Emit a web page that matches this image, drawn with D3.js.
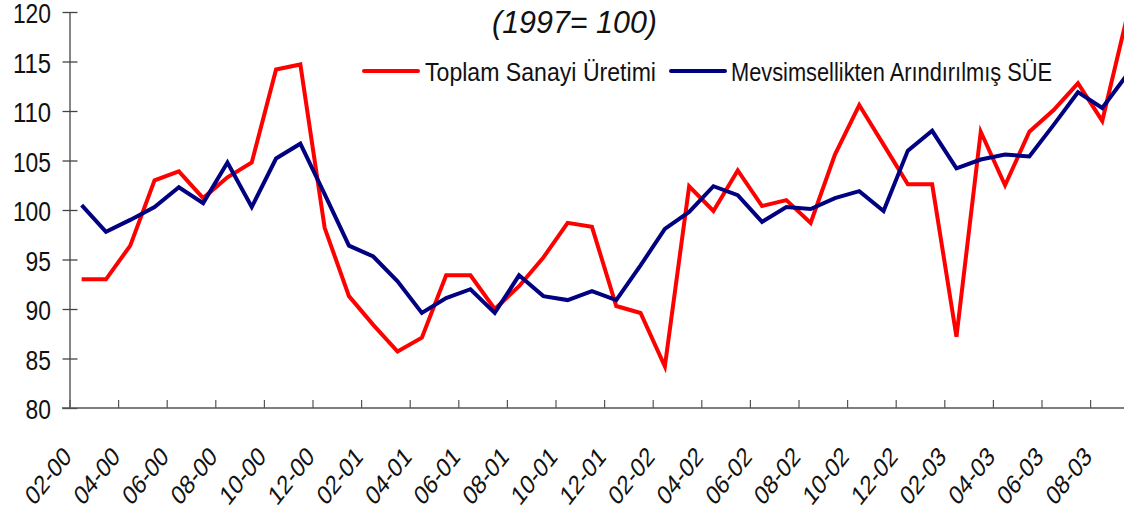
<!DOCTYPE html>
<html>
<head>
<meta charset="utf-8">
<script src="https://cdn.jsdelivr.net/npm/d3@7"></script>
<style>
  body { margin: 0; background: #fff; }
  svg { display: block; font-family: "Liberation Sans", Arial, sans-serif; }
</style>
</head>
<body>
<svg width="1124" height="513"></svg>
<script>
// months, Feb 2000 .. Sep 2003
var months = ["02-00","03-00","04-00","05-00","06-00","07-00","08-00","09-00","10-00","11-00","12-00","01-01",
  "02-01","03-01","04-01","05-01","06-01","07-01","08-01","09-01","10-01","11-01","12-01","01-02",
  "02-02","03-02","04-02","05-02","06-02","07-02","08-02","09-02","10-02","11-02","12-02","01-03",
  "02-03","03-03","04-03","05-03","06-03","07-03","08-03","09-03"];

var toplam = [93.0, 93.0, 96.4, 103.0, 103.9, 101.2, 103.3, 104.8, 114.2, 114.7, 98.2, 91.3,
  88.4, 85.7, 87.1, 93.4, 93.4, 90.0, 92.3, 95.2, 98.7, 98.3, 90.3, 89.6,
  84.2, 102.4, 99.9, 104.0, 100.4, 101.0, 98.7, 105.6, 110.6, 106.6, 102.6, 102.6,
  87.2, 107.9, 102.5, 107.9, 110.1, 112.8, 109.0, 119.3];

var mevsim = [100.5, 97.8, 99.0, 100.3, 102.3, 100.7, 104.8, 100.3, 105.2, 106.7, 101.6, 96.4,
  95.3, 92.8, 89.6, 91.1, 92.0, 89.6, 93.4, 91.3, 90.9, 91.8, 90.9, 94.4,
  98.1, 99.8, 102.4, 101.5, 98.8, 100.3, 100.1, 101.2, 101.9, 99.9, 106.0, 108.0,
  104.2, 105.1, 105.6, 105.4, 108.6, 111.9, 110.3, 113.6];

var yTicks = [80, 85, 90, 95, 100, 105, 110, 115, 120];
var seriesNames = ["Toplam Sanayi Üretimi", "Mevsimsellikten Arındırılmış SÜE"];
var seriesColors = ["#ff0000", "#000080"];
var title = "(1997= 100)";

var svg = d3.select("svg");
var x0 = 69.5, step = 24.3;

var x = d3.scaleLinear().domain([0, months.length]).range([x0, x0 + step * months.length]);
var y = d3.scaleLinear().domain([80, 120]).range([408, 12]);

// y axis (cross ticks)
var yAxis = d3.axisLeft(y).tickValues(yTicks).tickSize(0).tickFormat("");
var gy = svg.append("g").attr("transform", "translate(" + x0 + ",0)").call(yAxis);
gy.select(".domain").attr("stroke", "#444").attr("stroke-width", 1.3);
gy.selectAll(".tick line").attr("x1", -7).attr("x2", 8).attr("stroke", "#444").attr("stroke-width", 1.3);

yTicks.forEach(function(t) {
  svg.append("text")
    .attr("x", 51).attr("y", y(t) + 11)
    .attr("text-anchor", "end")
    .attr("font-size", 28)
    .attr("textLength", String(t).length * 12.7)
    .attr("lengthAdjust", "spacingAndGlyphs")
    .attr("fill", "#111")
    .text(t);
});

// x axis, ticks every 2 categories, pointing up
var evens = d3.range(0, months.length, 2);
var xAxis = d3.axisBottom(x).tickValues(evens.concat([months.length])).tickSize(-8).tickSizeOuter(0).tickFormat("");
var gx = svg.append("g").attr("transform", "translate(0,408)").call(xAxis);
gx.select(".domain").attr("stroke", "#555").attr("stroke-width", 1.3).attr("d", "M62,0H1130");
gx.selectAll(".tick line").attr("stroke", "#555").attr("stroke-width", 1.2);

evens.forEach(function(i) {
  svg.append("text")
    .attr("transform", "translate(" + (x(i + 0.5) - 9) + ",458) scale(0.79,1) rotate(-45)")
    .attr("text-anchor", "end")
    .attr("font-size", 27)
    .attr("fill", "#111")
    .text(months[i]);
});

// lines
var line = d3.line()
  .x(function(d, i) { return x(i + 0.5); })
  .y(function(d) { return y(d); });

[toplam, mevsim].forEach(function(s, k) {
  svg.append("path")
    .datum(s)
    .attr("d", line)
    .attr("fill", "none")
    .attr("stroke", seriesColors[k])
    .attr("stroke-width", 4)
    .attr("stroke-linejoin", "miter");
});

// title
svg.append("text")
  .attr("x", 492).attr("y", 33)
  .attr("font-size", 31)
  .attr("font-style", "italic")
  .attr("textLength", 165)
  .attr("lengthAdjust", "spacingAndGlyphs")
  .attr("fill", "#111")
  .text(title);

// legend
var legend = [
  { x1: 364, x2: 418, tx: 425, tw: 231 },
  { x1: 671, x2: 725, tx: 731, tw: 321 }
];
legend.forEach(function(l, k) {
  svg.append("line")
    .attr("x1", l.x1).attr("x2", l.x2).attr("y1", 71).attr("y2", 71)
    .attr("stroke", seriesColors[k]).attr("stroke-width", 4).attr("stroke-linecap", "round");
  svg.append("text")
    .attr("x", l.tx).attr("y", 81)
    .attr("font-size", 26)
    .attr("textLength", l.tw)
    .attr("lengthAdjust", "spacingAndGlyphs")
    .attr("fill", "#111")
    .text(seriesNames[k]);
});
</script>
</body>
</html>
